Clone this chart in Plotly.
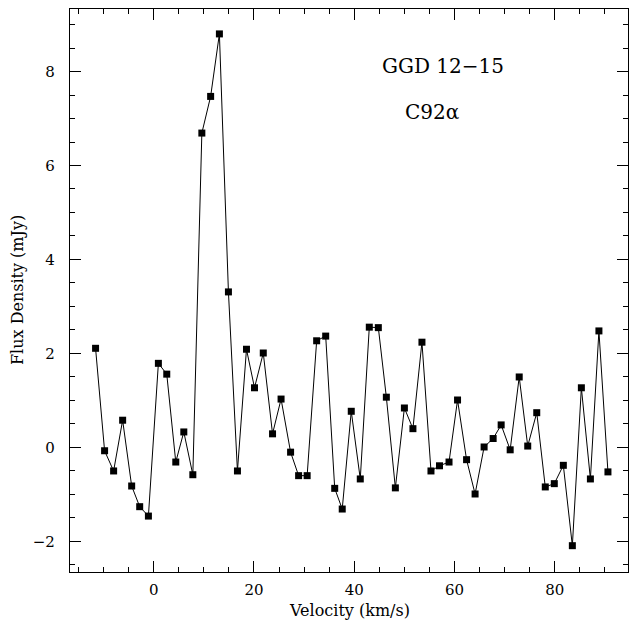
import plotly.graph_objects as go

velocity = [-11.6, -9.8, -8.0, -6.2, -4.4, -2.8, -1.06, 0.93, 2.6, 4.4, 6.0, 7.8,
            9.6, 11.35, 13.1, 14.9, 16.7, 18.5, 20.1, 21.85, 23.7, 25.4, 27.3, 28.9,
            30.6, 32.5, 34.3, 36.1, 37.6, 39.4, 41.2, 43.0, 44.8, 46.4, 48.2, 50.0,
            51.7, 53.5, 55.3, 57.0, 58.9, 60.6, 62.4, 64.1, 65.9, 67.7, 69.3, 71.1,
            72.9, 74.6, 76.4, 78.1, 79.9, 81.7, 83.5, 85.3, 87.1, 88.8, 90.6]
flux = [2.11, -0.07, -0.50, 0.58, -0.82, -1.26, -1.46, 1.79, 1.56, -0.31, 0.33, -0.58,
        6.69, 7.47, 8.80, 3.31, -0.50, 2.09, 1.27, 2.01, 0.29, 1.03, -0.10, -0.60,
        -0.60, 2.27, 2.37, -0.87, -1.31, 0.77, -0.67, 2.56, 2.55, 1.07, -0.86, 0.84,
        0.40, 2.24, -0.50, -0.39, -0.31, 1.01, -0.26, -0.99, 0.01, 0.19, 0.48, -0.05,
        1.50, 0.03, 0.74, -0.84, -0.77, -0.38, -2.09, 1.27, -0.67, 2.48, -0.52]

x_ticks = [0, 20, 40, 60, 80]
y_ticks = [-2, 0, 2, 4, 6, 8]
y_ticktext = ["\u22122", "0", "2", "4", "6", "8"]

font_family = "DejaVu Serif"

L, R, T, B = 70, 3, 9, 53
W, H = 631, 625
pw, ph = W - L - R, H - T - B


def px_x(x):
    return (x - L) / pw


def px_y(y):
    return 1 - (y - T) / ph


fig = go.Figure()
fig.add_trace(go.Scatter(
    x=velocity, y=flux, mode="lines+markers",
    line=dict(color="black", width=1),
    marker=dict(symbol="square", size=7, color="black"),
    showlegend=False,
))

axis_common = dict(
    showgrid=False, zeroline=False, showline=True, linecolor="black", linewidth=1.2,
    mirror="allticks", ticks="inside", tickcolor="black", tickwidth=1,
    ticklen=11, automargin=False,
    tickfont=dict(family=font_family, size=15, color="black"),
)

fig.update_xaxes(
    range=[-16.7, 94.6], tickvals=x_ticks, ticktext=[str(v) for v in x_ticks],
    minor=dict(dtick=5, tick0=0, ticks="inside", ticklen=5, tickcolor="black", tickwidth=1),
    ticklabelstandoff=4,
    **axis_common,
)
fig.update_yaxes(
    range=[-2.65, 9.33], tickvals=y_ticks, ticktext=y_ticktext,
    minor=dict(dtick=0.5, tick0=0, ticks="inside", ticklen=5, tickcolor="black", tickwidth=1),
    ticklabelstandoff=11,
    **axis_common,
)

ann_font = dict(family=font_family, color="black")
ann_common = dict(xref="paper", yref="paper", showarrow=False, xanchor="center", yanchor="middle")
fig.add_annotation(x=px_x(443), y=px_y(66), text="GGD 12\u221215",
                   font=dict(size=20, **ann_font), **ann_common)
fig.add_annotation(x=px_x(432), y=px_y(112), text="C92\u03b1",
                   font=dict(size=20, **ann_font), **ann_common)
fig.add_annotation(x=px_x(349), y=px_y(610), text="Velocity (km/s)",
                   font=dict(size=16, **ann_font), **ann_common)
fig.add_annotation(x=px_x(17), y=px_y(290), text="Flux Density (mJy)", textangle=-90,
                   font=dict(size=16, **ann_font), **ann_common)

fig.update_layout(
    width=W, height=H,
    margin=dict(l=L, r=R, t=T, b=B),
    plot_bgcolor="white", paper_bgcolor="white",
)

fig.write_html("out.html", config={"displayModeBar": False},
               post_script="document.body.style.margin='0';document.body.style.overflow='hidden';")
